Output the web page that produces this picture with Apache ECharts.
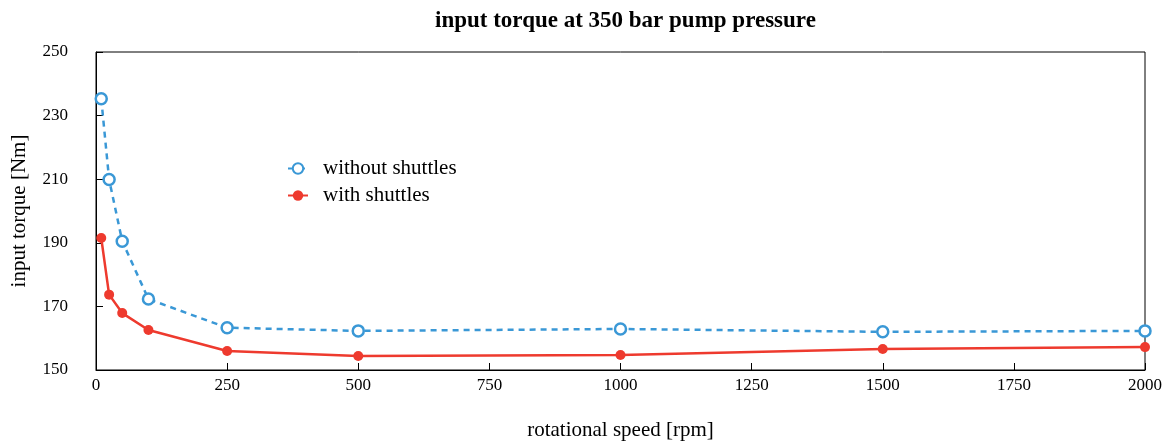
<!DOCTYPE html>
<html>
<head>
<meta charset="utf-8">
<script src="https://cdn.jsdelivr.net/npm/echarts@6/dist/echarts.min.js"></script>
<style>
  html, body { margin: 0; padding: 0; background: #fff; }
  #chart { width: 1165px; height: 441px; }
</style>
</head>
<body>
<div id="chart"></div>
<script>
// rotational speed [rpm]
const speeds = [10, 25, 50, 100, 250, 500, 1000, 1500, 2000];
// input torque [Nm]
const torqueWithout = [235.3, 209.9, 190.5, 172.3, 163.3, 162.3, 162.9, 162.0, 162.3];
const torqueWith = [191.5, 173.7, 167.9, 162.6, 156.0, 154.4, 154.7, 156.6, 157.2];

const serif = 'Liberation Serif';
const chart = echarts.init(document.getElementById('chart'));

chart.setOption({
  backgroundColor: '#fff',
  animation: false,
  title: {
    text: 'input torque at 350 bar pump pressure',
    left: 430,
    top: 5,
    textStyle: { fontFamily: serif, fontSize: 23, fontWeight: 'bold', color: '#000' }
  },
  legend: {
    orient: 'vertical',
    left: 282,
    top: 153,
    itemGap: 6,
    itemWidth: 20,
    itemHeight: 13,
    textStyle: { fontFamily: serif, fontSize: 21, color: '#000', padding: [0, 0, 0, 10] },
    data: ['without shuttles', 'with shuttles']
  },
  grid: {
    left: 96, right: 20, top: 52, bottom: 71,
    outerBoundsMode: 'none',
    containLabel: false,
    show: true, borderColor: '#000', borderWidth: 1, backgroundColor: 'transparent'
  },
  xAxis: {
    type: 'value',
    min: 0, max: 2000, interval: 250,
    name: 'rotational speed [rpm]',
    nameLocation: 'middle',
    nameGap: 50,
    nameTextStyle: { fontFamily: serif, fontSize: 21, color: '#000' },
    axisLine: { show: true, lineStyle: { color: '#000', width: 1 } },
    axisTick: { show: true, inside: true, length: 7, lineStyle: { color: '#000' } },
    axisLabel: { fontFamily: serif, fontSize: 17, color: '#000', margin: 7,
                 formatter: v => String(v) },
    splitLine: { show: false }
  },
  yAxis: {
    type: 'value',
    min: 150, max: 250, interval: 20,
    name: 'input torque [Nm]',
    nameLocation: 'middle',
    nameGap: 66,
    nameRotate: 90,
    nameTextStyle: { fontFamily: serif, fontSize: 21, color: '#000' },
    axisLine: { show: true, lineStyle: { color: '#000', width: 1 } },
    axisTick: { show: true, inside: true, length: 7, lineStyle: { color: '#000' } },
    axisLabel: { fontFamily: serif, fontSize: 17, color: '#000', margin: 28 },
    splitLine: { show: false }
  },
  series: [
    {
      name: 'without shuttles',
      type: 'line',
      data: speeds.map((s, i) => [s, torqueWithout[i]]),
      symbol: 'circle',
      symbolSize: 11,
      showAllSymbol: true,
      lineStyle: { color: '#3a98d6', width: 2.5, type: [6, 5] },
      itemStyle: { color: '#fff', borderColor: '#3a98d6', borderWidth: 2.5 },
      z: 2
    },
    {
      name: 'with shuttles',
      type: 'line',
      data: speeds.map((s, i) => [s, torqueWith[i]]),
      symbol: 'circle',
      symbolSize: 10,
      showAllSymbol: true,
      lineStyle: { color: '#ee3a2e', width: 2.5 },
      itemStyle: { color: '#ee3a2e', borderColor: '#ee3a2e', borderWidth: 0 },
      z: 3
    }
  ]
});
</script>
</body>
</html>
